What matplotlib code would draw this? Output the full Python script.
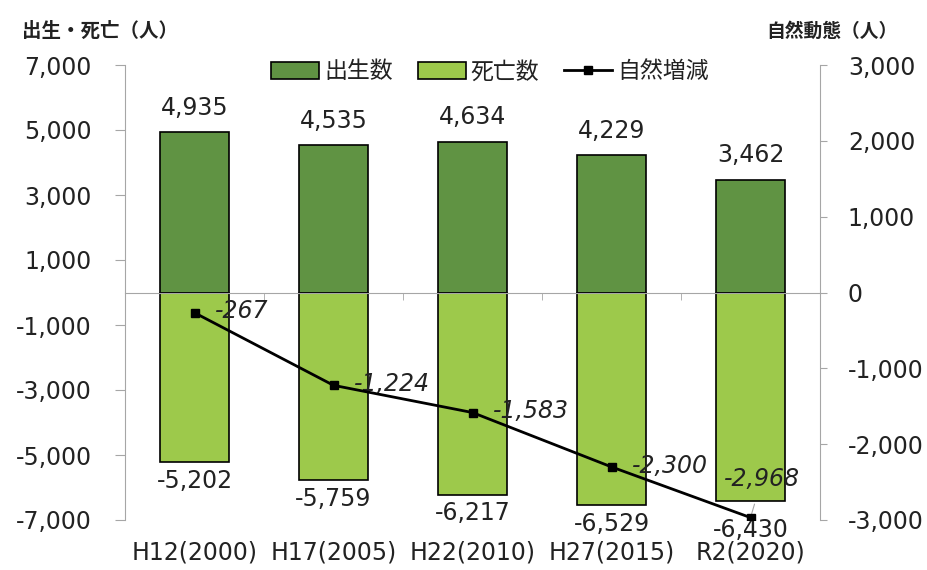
import matplotlib
matplotlib.use("Agg")
import matplotlib.pyplot as plt
import numpy as np
from matplotlib.lines import Line2D
from matplotlib.patches import Patch

plt.rcParams['font.family'] = ['DejaVu Sans', 'Noto Sans CJK JP']

categories = ["H12(2000)", "H17(2005)", "H22(2010)", "H27(2015)", "R2(2020)"]
births = [4935, 4535, 4634, 4229, 3462]
deaths = [-5202, -5759, -6217, -6529, -6430]
natural = [-267, -1224, -1583, -2300, -2968]
left_ticks = [7000, 5000, 3000, 1000, -1000, -3000, -5000, -7000]
right_ticks = [3000, 2000, 1000, 0, -1000, -2000, -3000]

DARK = "#609343"
LIGHT = "#9DC94B"
GRAY = "#A6A6A6"
TXT = "#222222"
FS = 17

fig = plt.figure(figsize=(9.27, 5.70), dpi=100)
ax = fig.add_axes([125/927, 1-520/570, 695/927, 455/570])
x = np.arange(len(categories))

ax.bar(x, births, width=0.5, color=DARK, edgecolor="black", linewidth=1.2, zorder=2)
ax.bar(x, deaths, width=0.5, color=LIGHT, edgecolor="black", linewidth=1.2, zorder=2)
ax.set_xlim(-0.5, len(categories) - 0.5)
ax.set_ylim(-7000, 7000)
ax.set_yticks(left_ticks)
ax.set_yticklabels([f"{v:,}" for v in left_ticks])

for s in ["top", "right"]:
    ax.spines[s].set_visible(False)
ax.spines["left"].set_color(GRAY)
ax.spines["bottom"].set_color(GRAY)
ax.spines["bottom"].set_position(("data", 0))
ax.spines["bottom"].set_zorder(3)
ax.tick_params(axis="y", length=7, color=GRAY, pad=17, labelsize=FS, labelcolor=TXT)
ax.set_xticks(x)
ax.set_xticks(x[:-1] + 0.5, minor=True)
ax.tick_params(axis="x", which="major", length=0, labelbottom=False)
ax.tick_params(axis="x", which="minor", length=5, color=GRAY, direction="out")

sec = ax.secondary_xaxis("bottom")
sec.set_xticks(x)
sec.set_xticklabels(categories)
sec.tick_params(length=0, pad=15, labelsize=FS, labelcolor=TXT)
sec.spines["bottom"].set_visible(False)

for i, v in enumerate(births):
    ax.annotate(f"{v:,}", (x[i], v), xytext=(0, 9), textcoords="offset points",
                ha="center", va="bottom", fontsize=FS, color=TXT)
for i, v in enumerate(deaths):
    dy = -12 if i == len(deaths) - 1 else -5
    ax.annotate(f"{v:,}", (x[i], v), xytext=(0, dy), textcoords="offset points",
                ha="center", va="top", fontsize=FS, color=TXT)

ax2 = ax.twinx()
ax2.plot(x, natural, color="black", linewidth=2, marker="s", markersize=6, zorder=5)
ax2.set_ylim(-3000, 3000)
ax2.set_yticks(right_ticks)
ax2.set_yticklabels([f"{v:,}" for v in right_ticks])
for s in ["top", "left", "bottom"]:
    ax2.spines[s].set_visible(False)
ax2.spines["right"].set_color(GRAY)
ax2.tick_params(axis="y", length=5, color=GRAY, pad=15, labelsize=FS, labelcolor=TXT)

for i, v in enumerate(natural):
    if i == len(natural) - 1:
        ax2.annotate(f"{v:,}", (x[i], v), xytext=(-19, 28), textcoords="offset points",
                     ha="left", va="center", fontsize=FS, style="italic", color=TXT,
                     arrowprops=dict(arrowstyle="-", color=GRAY, lw=0.8, shrinkA=8, shrinkB=3))
    else:
        ax2.annotate(f"{v:,}", (x[i], v), xytext=(15, 1), textcoords="offset points",
                     ha="left", va="center", fontsize=FS, style="italic", color=TXT)

handles = [Patch(facecolor=DARK, edgecolor="black", linewidth=1.2),
           Patch(facecolor=LIGHT, edgecolor="black", linewidth=1.2),
           Line2D([], [], color="black", linewidth=2, marker="s", markersize=6)]
labels = ["出生数", "死亡数", "自然増減"]
ax2.legend(handles, labels, loc="center", bbox_to_anchor=(0.525, 0.985), ncol=3,
           frameon=False, fontsize=16.5, handlelength=2.1, handleheight=0.75,
           handletextpad=0.2, columnspacing=1.1, borderaxespad=0, labelcolor=TXT)

fig.text(22/927, 1-31/570, "出生・死亡（人）", fontsize=14, fontweight="bold",
         ha="left", va="center", color=TXT)
fig.text(898/927, 1-31/570, "自然動態（人）", fontsize=13.5, fontweight="bold",
         ha="right", va="center", color=TXT)

fig.savefig("out.png", dpi=100)
